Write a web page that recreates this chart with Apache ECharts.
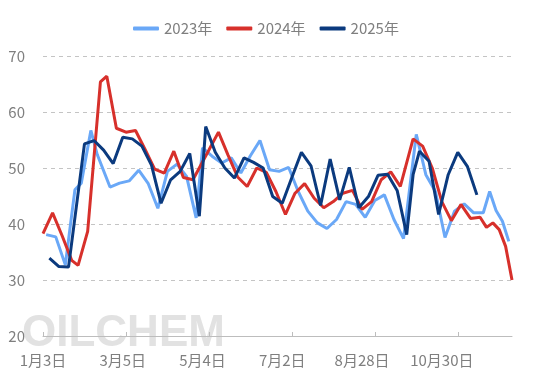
<!DOCTYPE html>
<html><head><meta charset="utf-8">
<script src="https://cdn.jsdelivr.net/npm/echarts@6/dist/echarts.min.js"></script>
<style>html,body{margin:0;padding:0;background:#fff}#c{width:554px;height:384px}</style>
</head><body><div id="c"></div>
<script>
const categories = ['1月3日','1月4日','1月8日','1月10日','1月11日','1月15日','1月17日','1月18日','1月22日','1月24日','1月25日','1月31日','2月1日','2月5日','2月7日','2月8日','2月12日','2月15日','2月18日','2月19日','2月21日','2月22日','2月26日','2月28日','3月1日','3月5日','3月6日','3月8日','3月12日','3月13日','3月15日','3月19日','3月20日','3月22日','3月26日','3月27日','3月29日','4月2日','4月3日','4月5日','4月9日','4月10日','4月12日','4月16日','4月17日','4月19日','4月23日','4月24日','4月26日','4月30日','5月4日','5月7日','5月8日','5月10日','5月14日','5月15日','5月17日','5月21日','5月22日','5月24日','5月28日','5月29日','5月31日','6月4日','6月5日','6月7日','6月11日','6月12日','6月14日','6月18日','6月19日','6月21日','6月25日','6月26日','6月28日','7月2日','7月3日','7月5日','7月9日','7月10日','7月12日','7月16日','7月17日','7月19日','7月23日','7月24日','7月26日','7月30日','7月31日','8月2日','8月6日','8月7日','8月9日','8月13日','8月14日','8月16日','8月20日','8月21日','8月23日','8月27日','8月28日','8月30日','9月3日','9月4日','9月6日','9月10日','9月11日','9月13日','9月17日','9月18日','9月20日','9月24日','9月25日','9月27日','9月30日','10月8日','10月9日','10月11日','10月15日','10月16日','10月18日','10月22日','10月23日','10月25日','10月29日','10月30日','11月1日','11月5日','11月6日','11月8日','11月12日','11月13日','11月15日','11月19日','11月20日','11月22日','11月26日','11月27日','11月29日','12月4日','12月6日','12月11日','12月13日','12月18日','12月20日','12月25日','12月27日','12月31日'];

const tickLabels = ['1月3日','3月5日','5月4日','7月2日','8月28日','10月30日'];

const dates2023 = ['1月4日','1月11日','1月18日','1月25日','2月1日','2月8日','2月15日','2月22日','3月1日','3月8日','3月15日','3月22日','3月29日','4月5日','4月12日','4月19日','4月26日','5月4日','5月10日','5月17日','5月24日','5月31日','6月7日','6月14日','6月21日','6月28日','7月5日','7月12日','7月19日','7月26日','8月2日','8月9日','8月16日','8月23日','8月30日','9月6日','9月13日','9月20日','9月27日','10月11日','10月18日','10月25日','11月1日','11月8日','11月15日','11月22日','11月29日','12月6日','12月13日','12月20日','12月27日'];
const values2023 = [38.1,37.7,32.7,46.1,47.3,56.7,52.4,46.6,47.3,47.7,49.6,47.2,42.8,49.4,50.7,48.5,41.1,53.6,52.1,50.9,51.8,49.1,52.2,54.9,49.7,49.4,50.1,45.8,42.3,40.2,39.2,40.8,44.0,43.5,41.2,44.2,45.2,40.8,37.4,56.0,48.8,45.8,37.6,42.3,43.6,42.0,42.0,45.8,42.4,40.5,36.9];

const dates2024 = ['1月3日','1月10日','1月17日','1月24日','1月31日','2月7日','2月18日','2月21日','2月28日','3月6日','3月13日','3月20日','3月27日','4月3日','4月10日','4月17日','4月24日','5月8日','5月15日','5月22日','5月29日','6月5日','6月12日','6月19日','6月26日','7月3日','7月10日','7月17日','7月24日','7月31日','8月7日','8月14日','8月21日','8月28日','9月4日','9月11日','9月18日','9月25日','10月9日','10月16日','10月23日','10月30日','11月6日','11月13日','11月20日','11月27日','12月4日','12月11日','12月18日','12月25日','12月31日'];
const values2024 = [38.3,42.0,37.9,33.5,32.6,38.7,65.4,66.4,57.1,56.4,56.7,53.3,49.8,49.1,53.0,48.3,47.9,53.2,56.4,52.3,48.4,46.7,50.0,49.2,45.8,41.7,45.5,47.2,44.6,42.9,44.0,45.5,46.0,42.6,44.0,47.9,49.3,46.7,55.2,53.9,50.0,44.0,40.6,43.5,41.0,41.2,39.4,40.2,39.0,36.0,30.0];

const dates2025 = ['1月8日','1月15日','1月22日','2月5日','2月12日','2月19日','2月26日','3月5日','3月12日','3月19日','3月26日','4月2日','4月9日','4月16日','4月23日','4月30日','5月7日','5月14日','5月21日','5月28日','6月4日','6月11日','6月18日','6月25日','7月2日','7月9日','7月16日','7月23日','7月30日','8月6日','8月13日','8月20日','8月27日','9月3日','9月10日','9月17日','9月24日','9月30日','10月9日','10月15日','10月22日','10月29日','11月5日','11月12日','11月19日','11月26日'];
const values2025 = [33.9,32.4,32.3,54.3,54.9,53.2,50.8,55.5,55.2,53.9,50.5,43.7,47.9,49.4,52.6,41.4,57.4,52.8,50.0,48.2,51.8,51.0,50.0,44.9,43.7,48.3,52.8,50.4,43.3,51.6,44.3,50.1,42.9,44.9,48.7,48.9,46.0,38.1,48.8,53.0,51.2,41.7,48.8,52.8,50.3,45.2];

const seriesNames = ['2023年','2024年','2025年'];
const colors = ['#6aa8f7','#d7302b','#0b3a7e'];
const pairs = (d, v) => d.map((x, i) => [x, v[i]]);
const allData = [pairs(dates2023, values2023), pairs(dates2024, values2024), pairs(dates2025, values2025)];

const font = '"Noto Sans CJK SC", "Noto Sans", sans-serif';
const chart = echarts.init(document.getElementById('c'));
chart.setOption({
  animation: false,
  color: colors,
  textStyle: { fontFamily: font },
  graphic: [{
    type: 'text', left: 22, top: 312, z: -10, silent: true,
    style: { text: 'OILCHEM', font: 'bold 44px "Liberation Sans", Arial, sans-serif', fill: '#e2e2e2' }
  }],
  legend: {
    left: 128, top: 16,
    icon: 'roundRect', itemWidth: 26, itemHeight: 4, itemGap: 14,
    textStyle: { color: '#7f7f7f', fontSize: 15, fontFamily: font },
    data: seriesNames
  },
  grid: { left: 43, right: 42, top: 56, bottom: 48 },
  xAxis: {
    type: 'category', boundaryGap: false, data: categories,
    axisLine: { lineStyle: { color: '#bdbdbd', width: 1 } },
    axisTick: { show: true, inside: true, length: 4, interval: 25, lineStyle: { color: '#bdbdbd' } },
    axisLabel: {
      color: '#7f7f7f', fontSize: 15, margin: 17, fontFamily: font,
      interval: (idx, val) => tickLabels.includes(val)
    },
    splitLine: { show: false }
  },
  yAxis: {
    type: 'value', min: 20, max: 70, interval: 10,
    axisLine: { show: false }, axisTick: { show: false },
    axisLabel: { color: '#7f7f7f', fontSize: 15, margin: 18, fontFamily: font },
    splitLine: { lineStyle: { color: '#c4c4c4', type: [4, 4], width: 1 } }
  },
  series: seriesNames.map((n, i) => ({
    name: n, type: 'line', data: allData[i], symbol: 'none',
    lineStyle: { width: 3, color: colors[i] }, itemStyle: { color: colors[i] }
  }))
});
</script></body></html>
